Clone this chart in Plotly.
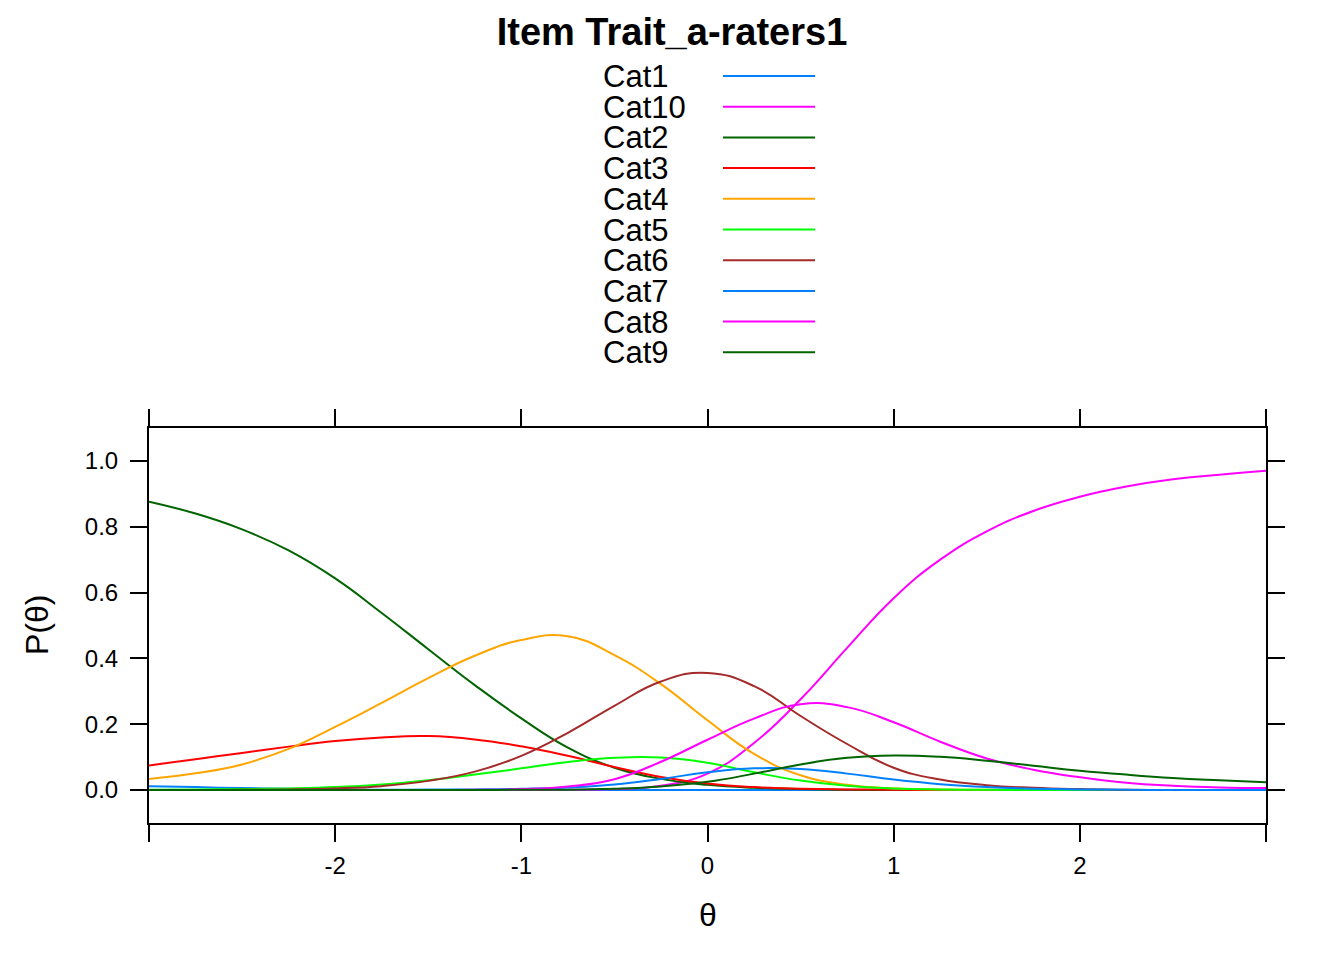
import plotly.graph_objects as go

# category probability curves, theta step 0.25
theta = [-3.0, -2.75, -2.5, -2.25, -2.0, -1.75, -1.5, -1.25, -1.0, -0.75, -0.5, -0.25,
         0.0, 0.25, 0.5, 0.75, 1.0, 1.25, 1.5, 1.75, 2.0, 2.25, 2.5, 2.75, 3.0]

cat1 = [0.012, 0.009, 0.006, 0.004, 0.002, 0.001, 0.001, 0, 0, 0, 0, 0,
        0, 0, 0, 0, 0, 0, 0, 0, 0, 0, 0, 0, 0]
cat2 = [0.876, 0.840, 0.792, 0.728, 0.643, 0.538, 0.428, 0.319, 0.218, 0.129, 0.068, 0.034,
        0.016, 0.007, 0.003, 0.001, 0, 0, 0, 0, 0, 0, 0, 0, 0]
cat3 = [0.075, 0.094, 0.113, 0.132, 0.149, 0.160, 0.164, 0.154, 0.133, 0.104, 0.070, 0.040,
        0.020, 0.009, 0.004, 0.002, 0.001, 0, 0, 0, 0, 0, 0, 0, 0]
cat4 = [0.034, 0.051, 0.078, 0.125, 0.192, 0.265, 0.340, 0.408, 0.456, 0.467, 0.410, 0.322,
        0.212, 0.110, 0.045, 0.016, 0.005, 0.002, 0.001, 0, 0, 0, 0, 0, 0]
cat5 = [0.001, 0.002, 0.003, 0.005, 0.009, 0.017, 0.030, 0.047, 0.066, 0.085, 0.098, 0.099,
        0.083, 0.054, 0.029, 0.013, 0.005, 0.002, 0.001, 0, 0, 0, 0, 0, 0]
cat6 = [0, 0, 0.001, 0.002, 0.005, 0.012, 0.028, 0.056, 0.104, 0.174, 0.256, 0.330,
        0.356, 0.316, 0.225, 0.140, 0.068, 0.032, 0.015, 0.007, 0.003, 0.001, 0, 0, 0]
cat7 = [0, 0, 0, 0, 0, 0, 0.001, 0.002, 0.004, 0.008, 0.017, 0.034,
        0.054, 0.066, 0.064, 0.050, 0.032, 0.018, 0.009, 0.004, 0.002, 0.001, 0, 0, 0]
cat8 = [0, 0, 0, 0, 0, 0, 0, 0.001, 0.003, 0.011, 0.033, 0.086,
        0.153, 0.217, 0.261, 0.252, 0.206, 0.147, 0.096, 0.062, 0.039, 0.022, 0.013, 0.008, 0.006]
cat9 = [0, 0, 0, 0, 0, 0, 0, 0, 0.001, 0.001, 0.004, 0.011,
        0.025, 0.050, 0.078, 0.098, 0.105, 0.101, 0.089, 0.074, 0.059, 0.047, 0.037, 0.030, 0.024]
cat10 = [0, 0, 0, 0, 0, 0, 0, 0, 0, 0.001, 0.003, 0.013,
         0.050, 0.143, 0.276, 0.432, 0.583, 0.700, 0.786, 0.848, 0.891, 0.922, 0.944, 0.958, 0.970]

# lattice orders the groups alphabetically
categories = ["Cat1", "Cat10", "Cat2", "Cat3", "Cat4", "Cat5", "Cat6", "Cat7", "Cat8", "Cat9"]
series = {"Cat1": cat1, "Cat10": cat10, "Cat2": cat2, "Cat3": cat3, "Cat4": cat4,
          "Cat5": cat5, "Cat6": cat6, "Cat7": cat7, "Cat8": cat8, "Cat9": cat9}
palette = ["#0080ff", "#ff00ff", "#006400", "#ff0000", "#ffa500", "#00ff00", "#a52a2a"]

x_ticks = [-3, -2, -1, 0, 1, 2, 3]
x_labels = ["", "-2", "-1", "0", "1", "2", ""]
y_ticks = [0.0, 0.2, 0.4, 0.6, 0.8, 1.0]
y_labels = ["0.0", "0.2", "0.4", "0.6", "0.8", "1.0"]

FONT = "Liberation Sans, Arial, Helvetica, sans-serif"
W, H = 1344, 960
OFF = 8  # page body margin
L, R, T, B = 149, 1266, 428, 823  # panel box in page pixels


def px(x):
    return (x - L) / (R - L)


def py(y):
    return (B - y) / (B - T)


fig = go.Figure()
for i, name in enumerate(categories):
    fig.add_trace(go.Scatter(
        x=theta,
        y=series[name],
        mode="lines",
        name=name,
        line=dict(color=palette[i % len(palette)], width=2, shape="spline", smoothing=1.3),
        showlegend=False,
    ))

# key like lattice: text on the left, line to the right
for i, name in enumerate(categories):
    row_y = 76 + i * 30.7
    fig.add_annotation(
        text=name, x=px(601), y=py(row_y), xref="paper", yref="paper",
        xanchor="left", yanchor="middle", showarrow=False, height=30,
        font=dict(size=31, color="black", family=FONT),
    )
    fig.add_shape(
        type="line", xref="paper", yref="paper",
        x0=px(723), x1=px(815), y0=py(row_y), y1=py(row_y),
        line=dict(color=palette[i % len(palette)], width=2),
    )

fig.add_annotation(
    text="θ", x=px(707.5), y=py(915), xref="paper", yref="paper",
    xanchor="center", yanchor="middle", showarrow=False,
    font=dict(size=32, color="black", family=FONT),
)
fig.add_annotation(
    text="P(θ)", x=px(37), y=py(625), xref="paper", yref="paper",
    xanchor="center", yanchor="middle", showarrow=False, textangle=-90,
    font=dict(size=32, color="black", family=FONT),
)

axis_style = dict(
    showline=True, linecolor="black", linewidth=2, mirror="ticks",
    ticks="outside", ticklen=17, tickwidth=2, tickcolor="black",
    showgrid=False, zeroline=False,
    tickfont=dict(size=24, color="black", family=FONT),
)

fig.update_xaxes(range=[-3, 3], tickmode="array", tickvals=x_ticks, ticktext=x_labels,
                 ticklabelstandoff=3, **axis_style)
fig.update_yaxes(range=[-0.1, 1.1], tickmode="array", tickvals=y_ticks, ticktext=y_labels,
                 ticklabelstandoff=7, **axis_style)

FW, FH = W - OFF, H - OFF
fig.update_layout(
    width=FW, height=FH, autosize=False,
    margin=dict(l=L - OFF, r=FW - (R - OFF), t=T - OFF, b=FH - (B - OFF)),
    paper_bgcolor="white", plot_bgcolor="white",
    font=dict(family=FONT, color="black"),
    title=dict(
        text="<b>Item Trait_a-raters1</b>",
        x=0.5 * W / FW - OFF / FW, xref="container", xanchor="center",
        y=1 - (32 - OFF) / FH, yref="container", yanchor="middle",
        font=dict(size=38, color="black", family=FONT),
    ),
)

fig.write_html("out.html")
